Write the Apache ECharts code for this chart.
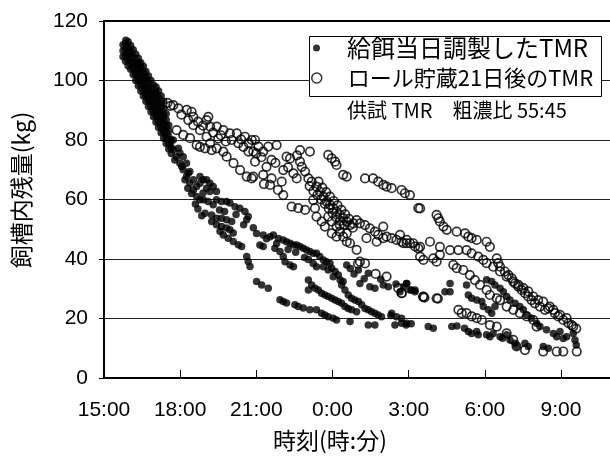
<!DOCTYPE html>
<html><head><meta charset="utf-8">
<script src="https://cdn.jsdelivr.net/npm/echarts@6/dist/echarts.min.js"></script>
<style>html,body{margin:0;padding:0;background:#fff;overflow:hidden}#c{width:610px;height:462px}</style>
</head><body><div id="c"></div>
<script>
// tick values / labels
const xTickValues = [15,18,21,24,27,30,33];
const xTickLabels = ['15:00','18:00','21:00','0:00','3:00','6:00','9:00'];
const yTicks = [0,20,40,60,80,100,120];
const seriesNames = ['給餌当日調製したTMR','ロール貯蔵21日後のTMR'];
const xAxisTitle = '時刻(時:分)';
const yAxisTitle = '飼槽内残量(kg)';
const noteText = '供試 TMR　粗濃比 55:45';

// values are [hour since 0:00 of feeding day, kg]
const freshBand = [
[15.75,108],[15.75,110],[15.75,112],
[15.85,106.5],[15.85,108.5],[15.85,110.5],[15.85,112.5],[15.86,113.5],
[15.95,105],[15.95,107],[15.95,109],[15.95,111],[15.95,113],
[16.05,103.8],[16.05,105.8],[16.05,107.8],[16.05,109.8],[16.05,111.8],
[16.15,102],[16.15,104],[16.15,106],[16.15,108],[16.15,110.3],
[16.25,100],[16.25,102],[16.25,104],[16.25,106],[16.25,108.8],
[16.35,98.2],[16.35,100.2],[16.35,102.2],[16.35,104.2],[16.35,106.2],[16.35,107.5],
[16.45,96.5],[16.45,98.5],[16.45,100.5],[16.45,102.5],[16.45,104.5],[16.45,106],
[16.55,94.8],[16.55,96.8],[16.55,98.8],[16.55,100.8],[16.55,102.8],[16.55,104.8],
[16.65,93],[16.65,95],[16.65,97],[16.65,99],[16.65,101],[16.65,103],
[16.75,91.3],[16.75,93.3],[16.75,95.3],[16.75,97.3],[16.75,99.3],[16.75,101.5],
[16.85,89.5],[16.85,91.5],[16.85,93.5],[16.85,95.5],[16.85,97.5],[16.85,100],
[16.95,87.8],[16.95,89.8],[16.95,91.8],[16.95,93.8],[16.95,95.8],[16.95,98.5],
[17.05,86],[17.05,88],[17.05,90],[17.05,92],[17.05,94],[17.05,96],[17.05,97.8],
[17.15,84.2],[17.15,86.2],[17.15,88.2],[17.15,90.2],[17.15,92.2],[17.15,94.2],[17.15,96.5],
[17.25,82.4],[17.25,84.4],[17.25,86.4],[17.25,88.4],[17.25,90.4],[17.25,92.4],[17.25,94.8],
[17.35,80.6],[17.35,82.6],[17.35,84.6],[17.35,86.6],[17.35,88.6],[17.35,90.6],[17.35,93],
[17.45,78.8],[17.45,80.8],[17.45,82.8],[17.45,84.8],[17.45,86.8],[17.45,88.8],
[17.55,77],[17.55,79],[17.55,81],[17.55,83],[17.55,85],
[17.65,75.5],[17.65,77.5],[17.65,80]
];
const freshEvening = [
[17.6,78.9],[17.73,76.7],[17.86,74.4],[17.99,72.2],[18.12,70],[18.25,67.7],[18.38,65.5],[18.52,63.2],[18.65,61],
[17.73,80],[17.93,77.2],[18.12,74.4],[18.25,72.2],[18.38,69.4],[17.99,75.6],[17.79,73.3],[18.06,71.1],[18.19,66.6],[18.32,68.8],
[18.78,67.7],[18.91,66.6],[19.04,66.6],[19.17,65.5],[19.3,64.4],[19.43,62.7],[19.04,63.8],[19.17,62.7],[18.78,65.5],[18.65,64.4],[18.52,66.6],
[18.78,59.9],[18.91,59.9],[19.1,59.3],[19.3,58.2],[19.43,59.9],[19.63,59.3],[19.83,59.3],[19.96,58.8],[20.16,57.6],[20.35,57.1],[20.55,56],[20.68,54.3],[20.62,53.2],
[18.98,55.4],[19.24,54.8],[19.43,53.7],[19.63,53.7],[19.83,53.2],[20.03,52.6],
[19.24,52.6],[19.43,51.5],[19.63,50.9],[19.83,50.4],[19.96,49.8],[20.09,48.7],
[19.57,49.3],[19.7,48.1],[19.89,47],[20.09,45.9],[20.29,44.8],[20.42,44.2],
[18.45,62],[18.6,58.5],[18.7,56.8],[18.85,54.5],[18.3,63.8],[18.9,62.2],[19.55,56.5],[19.75,56],[20.2,55],[20.5,51.5]
];
const freshNightUpper = [
[20.88,50.5],[21.01,48.6],[21.27,48.1],[21.54,47.5],[21.67,48.1],[21.87,46.9],[22.06,46.4],[22.19,45.8],[22.33,45.3],[22.46,44.7],[22.59,44.7],[22.72,44.2],[22.85,43.6],[22.98,43.0],[23.11,42.5],[23.24,41.9],[23.37,41.9],[23.5,40.8],[23.64,39.7],[23.77,39.1],[23.9,38.6],[23.97,36.9],[24.1,35.8],[24.23,34.6],[24.3,32.9],[24.42,32.4],[24.36,31.3],[24.49,29.6],[24.62,27.9],[24.75,26.8],[24.88,26.2],[25.02,25.7],[25.15,24.6],[25.28,23.4],[25.41,22.9],[25.54,22.3],[25.67,21.8],[25.8,21.2],[25.93,20.6],
[21.14,44.7],[21.27,44.2],[21.73,43.6],[21.93,42.5],[22.06,40.8],[22.13,39.1],[22.33,38],[22.46,37.4],
[21.4,46.8],[21.8,45.2],[22.25,43.2],[22.55,42.3],[22.9,40.5],[23.05,39.8]
];
const freshNightMiddle = [
[23.24,38.5],[23.37,37.4],[23.64,37.4],[23.83,36.3],[24.03,34],
[23.05,32.9],[23.18,31.3],[23.05,29.6],[23.31,30.2],[23.44,29.6],[23.57,28.5],[23.7,27.9],[23.83,27.4],[23.97,26.8],[24.1,26.2],[24.23,25.7],[24.36,25.1],[24.49,24],[24.62,23.4],[24.75,22.9],[24.95,22.3],
[24.56,38],[25.02,36.3],[25.41,35.2],[25.08,31.8],[25.47,30.7],[25.67,30.2],[26.0,31.3],[26.2,30.7],[26.66,29],[26.79,30.7],[26.92,31.8],[27.11,29.6],[27.25,29],
[26.33,21.8],[26.52,20.6],[26.72,20.1],[26.92,18.4],[26.3,21],
[24.7,36.8],[24.85,35],[25.25,33.4],[25.9,33.2],[26.5,31.6]
];
const freshLowest = [
[20.62,40.8],[20.68,39.2],[20.75,37.5],[21.01,32.4],[21.21,31.3],[21.47,30.2],[21.93,26.3],[22.06,25.7],[22.19,25.2],[22.52,24.6],[22.65,24],[22.85,23.5],[23.11,22.9],[23.37,22.9],[23.57,21.8],[23.7,21.2],[23.83,20.6],[24.03,20.1],[24.16,19.5],[24.69,19],[25.41,17.8],[25.67,17.8],[26.46,17.8],[26.72,18.4],[26.9,17.8],[27.1,18.2],[27.77,17.3],[27.97,16.7],[28.7,17.3],[28.9,17.5],[29.2,16.7],[29.35,15.6],[29.48,15],[29.68,15.6],[29.74,14.5],[30.07,14.5],[30.2,13.9],[30.33,15],[30.6,13.9],[30.7,13.4],[30.86,14.5],[30.99,12.8],[31.19,11.7],[31.25,10.6],[31.58,11.7],[31.71,10.6],[32.3,10.6],[32.5,10],[33.09,13.3],[33.22,13.9],[33.55,12.8],[33.6,11.1],[33.48,15]
];
const freshMorning = [
[26.92,31.8],[27.05,29.6],[27.25,29.6],[28.43,29],[28.63,29],[28.63,31.8],[29.28,31.3],[29.35,27.9],[29.48,26.8],[29.68,26.2],[29.88,25.7],[29.94,24],[30.14,22.9],[30.27,21.8],[30.4,24],[30.07,33],[30.27,32.4],[30.4,31.3],[30.6,30.2],[30.73,29],[30.86,27.4],[30.99,26.2],[31.19,25.1],[31.38,24],[31.52,22.9],[31.65,21.2],[31.84,20.1],[32.04,18.4],[32.17,17.3],[32.43,16.2],[32.7,15],[32.83,13.9],[32.96,15.6]
];

const storedEvening = [
[17.5,92.5],[17.62,91.5],
[17.73,91.7],[17.93,90.6],[18.26,90.1],[18.45,89.5],[18.52,87.8],[18.32,86.7],[19.11,87.8],[19.04,86.7],[19.18,84.5],[19.44,84.5],[19.7,83.3],[19.96,82.2],[20.23,82.2],[20.55,81.1],[20.82,80],[18.52,85],[18.78,83.3],[19.04,81.1],[19.18,78.9],[19.44,77.2],[19.7,76.1],[19.83,74.4],[20.1,72.2],[20.36,69.9],[20.62,67.7],[20.82,67.1],[20.03,80],[20.29,78.9],[20.49,77.7],[20.69,76.1],[21.0,75.5],[18.78,77.7],[18.98,77.2],[19.24,76.6],[17.86,83.3],[18.12,81.7],[18.39,80.6],[18.65,78.3],[19.5,80.5],[19.8,79.5],
[18.05,88.5],[18.7,86.2],[18.9,84.8],[19.3,82.5],[19.6,81.6],[20.4,80.2],[20.7,79]
];
const storedNight = [
[20.95,80],[21.08,77.8],[20.88,76.1],[21.27,76.1],[21.47,77.8],[21.8,78.3],[21.6,73.3],[21.4,71],[20.95,72.7],[20.88,67.7],[21.27,68.3],[21.6,67.1],[21.54,64.9],[22.06,69.9],[22.19,74.4],[22.33,73.8],[22.46,68.8],[22.59,67.1],[22.72,76.6],[23.11,76.1],[22.72,72.7],[22.79,71],[22.92,69.4],[23.05,67.1],[23.18,66],[23.37,64.3],[23.51,62.6],[23.64,61],[23.77,59.3],[23.9,58.2],[24.03,57.1],[24.16,55.9],[24.29,54.8],[24.42,53.7],[24.56,52.6],[24.69,51.4],[24.82,52],[24.95,53.1],[25.08,52],[25.28,51.4],[25.47,50.3],[25.67,49.2],[25.8,48.1],[26.0,50.9],[26.13,47.5],[26.33,47],[26.52,46.4],[26.72,45.8],[26.92,45.3],[27.05,45.3],[27.25,44.2],[27.38,43.6],
[22.06,61.5],[22.39,57.6],[22.65,57.1],[22.92,56.5],[23.24,59.8],[23.31,57.1],[23.37,54.2],[23.57,52.6],[23.7,50.9],[23.83,54.2],[23.97,52.6],[24.16,50.9],[24.29,49.2],[24.42,47.5],[24.56,45.8],[23.97,48.6],[24.16,47.5],[24.29,51.4],[24.69,45.3],[25.34,47],[25.74,45.8],[26.0,47],[24.56,48.6],[24.95,43.1],
[23.1,64.5],[23.25,62.8],[23.4,61.5],[23.55,60],[23.7,58.5],[23.85,57],[24.0,55.5],[24.15,54],[24.3,52.8],[24.45,51.5],[23.45,66],[23.6,64],[23.75,62.5],[23.9,61],[24.05,59.5],[24.2,58],[24.35,56.5],[24.5,55],[24.65,53.5],[24.8,50.5],
[21.2,74.2],[21.75,72.3],[22.0,66],[21.3,65.2],[21.85,63.2],[22.25,70.8],[22.6,74.8]
];
const storedUpper = [
[23.83,75],[23.97,73.8],[24.1,72.7],[24.16,71.6],[24.42,68.3],[24.56,67.7],[25.28,67.1],[25.6,67.1],[25.8,66],[26.0,64.9],[26.13,64.3],[26.33,63.8],[26.72,63.2],[26.85,62.1],[27.05,61.5],[27.38,57.1],
[27.45,57],[28.1,54.8],[28.17,53.7],[28.23,52.6],[28.37,50.9],[28.5,49.8],[28.89,49.2],[29.22,48.6],[29.35,47.5],[29.48,47],[29.68,46.4],[30.07,45.8],[30.2,44.1],[30.47,40.2],[30.53,38.6],[30.6,37.4],[30.79,35.8],[30.93,34.6],[31.06,33.5],[31.19,31.8],[31.32,30.7],[31.45,29.6],[31.58,28.5],[31.71,27.4],[31.84,26.2],[31.97,25.1],[32.17,24],[32.37,22.9],[32.56,24],[32.76,21.8],[32.89,20.7],[33.09,19.5],[33.29,18.4],[33.48,17.3],[33.6,16.6]
];
const storedMorning = [
[26.66,48.1],[26.92,46.4],[27.18,45.3],[27.45,44.1],[27.84,45.8],[28.23,44.1],[28.63,43],[28.96,43],[29.28,43],[29.48,41.9],[29.74,40.8],[29.94,39.7],[30.07,38.6],[30.33,37.4],[30.6,35.8],[30.86,34.1],[31.12,32.4],[31.32,31.3],[31.52,30.2],[31.71,29.1],[31.91,27.4],[32.1,26.2],[32.3,25.7],[32.5,23.4],[32.7,22.9],[32.96,21.2],[33.22,20.1],[33.42,17.8],
[26.79,45.3],[27.45,40.8],[27.58,39.7],[27.97,40.2],[28.1,39.1],[28.23,41.4],[28.76,38],[28.89,36.9],[29.15,36.3],[29.41,34.6],[29.61,32.9],[29.81,31.3],[30.07,29.6],[30.2,27.9],[30.47,26.8],[30.6,26.2],[30.86,24],[31.12,22.9],[31.38,21.8],[31.65,20.7],[31.91,19.5],[32.04,17.3]
];
const storedLower = [
[25.0,38.4],[25.08,39.1],[25.28,38.5],[25.7,35],[26.13,34.1],[26.59,30.2],[26.72,28.5],[27.57,27.3],[27.62,27],[28.15,26.7],
[26.73,28.5],[27.58,27.4],[28.1,26.8],[28.96,22.9],[29.09,21.8],[29.28,21.8],[29.48,20.7],[29.68,20.1],[29.88,19.5],[30.2,17.8],[30.47,17.3],[30.86,15],[31.12,12.8],[31.25,10.6],[31.58,9.4],[32.3,8.9],[32.83,8.9],[33.09,8.9],[33.62,8.9]
];

const freshData = [].concat(freshBand, freshEvening, freshNightUpper, freshNightMiddle, freshLowest, freshMorning);
const storedData = [].concat(storedEvening, storedNight, storedUpper, storedMorning, storedLower);

const NUM = "'Liberation Sans', Arial, sans-serif";
const JP = "'Noto Sans CJK JP', 'Liberation Sans', sans-serif";
const chart = echarts.init(document.getElementById('c'));
chart.setOption({
  animation: false,
  backgroundColor: '#fff',
  grid: {left: 104, right: 0, top: 21, bottom: 84, show: false, outerBoundsMode: 'none', containLabel: false},
  xAxis: [{
    type: 'value', min: 15, max: 34.93, position: 'bottom',
    axisLine: {show: true, lineStyle: {color: '#000', width: 2}},
    axisTick: {show: true, inside: true, length: 8, customValues: xTickValues, lineStyle: {color: '#000', width: 1}},
    axisLabel: {customValues: xTickValues, formatter: v => xTickLabels[xTickValues.indexOf(Math.round(v))] || '',
      fontSize: 21, color: '#000', margin: 22, fontFamily: NUM},
    splitLine: {show: false}
  }, {
    type: 'value', min: 15, max: 34.93, position: 'top',
    axisLine: {show: true, onZero: false, lineStyle: {color: '#000', width: 2}},
    axisTick: {show: false}, axisLabel: {show: false}, splitLine: {show: false}
  }],
  yAxis: {
    type: 'value', min: yTicks[0], max: yTicks[yTicks.length - 1], interval: 20,
    axisLine: {show: true, lineStyle: {color: '#000', width: 2}},
    axisTick: {show: true, inside: false, length: 5, lineStyle: {color: '#000', width: 1}},
    axisLabel: {fontSize: 21, color: '#000', margin: 16, fontFamily: NUM},
    splitLine: {show: true, lineStyle: {color: '#222', width: 1}}
  },
  legend: [
    {data: [{name: seriesNames[0], icon: 'circle', itemStyle: {color: '#000'}}],
     left: 313, top: 35, padding: 0, itemWidth: 7, itemHeight: 7, selectedMode: false, z: 10,
     textStyle: {fontSize: 24, color: '#000', fontFamily: JP, lineHeight: 26, padding: [0, 0, 0, 22]}},
    {data: [{name: seriesNames[1], icon: 'circle', itemStyle: {color: 'rgba(0,0,0,0)', borderColor: '#000', borderWidth: 1.5}}],
     left: 311, top: 65, padding: 0, itemWidth: 10, itemHeight: 10, selectedMode: false, z: 10,
     textStyle: {fontSize: 22, color: '#000', fontFamily: JP, lineHeight: 26, padding: [0, 0, 0, 21]}}
  ],
  graphic: [
    {type: 'rect', z: 3, shape: {x: 309.5, y: 36.5, width: 292, height: 60}, style: {fill: '#fff', stroke: '#000', lineWidth: 1}},
    {type: 'text', z: 10, x: 347, y: 110, style: {text: noteText, fontSize: 20, fontFamily: JP, fill: '#000', align: 'left', verticalAlign: 'middle'}},
    {type: 'text', z: 10, x: 330, y: 440, style: {text: xAxisTitle, fontSize: 23, fontFamily: JP, fill: '#000', align: 'center', verticalAlign: 'middle'}},
    {type: 'text', z: 10, x: 21, y: 190, rotation: Math.PI / 2, style: {text: yAxisTitle, fontSize: 23, fontFamily: JP, fill: '#000', align: 'center', verticalAlign: 'middle'}}
  ],
  series: [
    {name: seriesNames[1], type: 'scatter', data: storedData, symbol: 'circle', symbolSize: 8.5, z: 2,
     itemStyle: {color: 'rgba(0,0,0,0)', borderColor: '#000', borderWidth: 1.7}, emphasis: {disabled: true}},
    {name: seriesNames[0], type: 'scatter', data: freshData, symbol: 'circle', symbolSize: 7.5, z: 3,
     itemStyle: {color: '#000'}, emphasis: {disabled: true}}
  ]
});
</script></body></html>
